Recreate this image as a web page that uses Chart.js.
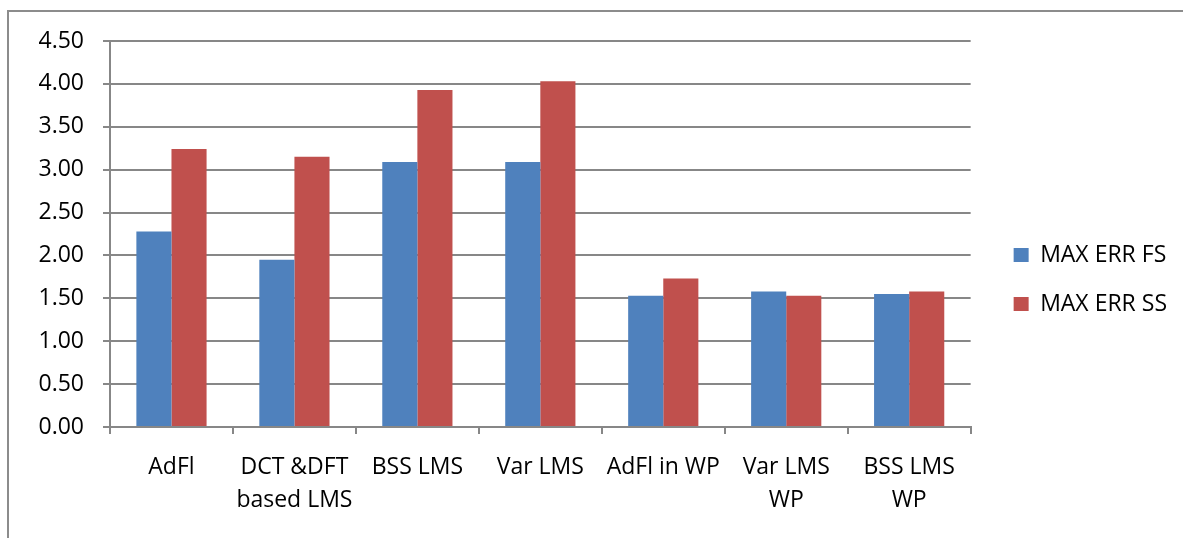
<!DOCTYPE html>
<html>
<head>
<meta charset="utf-8">
<script src="https://cdn.jsdelivr.net/npm/chart.js@4/dist/chart.umd.min.js"></script>
<style>
    html, body { margin: 0; padding: 0; background: #fff; }
    #wrap { position: relative; width: 1183px; height: 538px; overflow: hidden; }
    #frame {
        position: absolute; left: 7px; top: 10px; width: 1300px; height: 600px;
        border-left: 2px solid #8c8c8c; border-top: 2px solid #8c8c8c;
    }
    #chart { position: absolute; left: 0; top: 0; }
</style>
</head>
<body>
<div id="wrap">
    <div id="frame"></div>
    <canvas id="chart" width="1183" height="538"></canvas>
</div>
<script>
// categories and series
const categories = [
    'AdFl',
    ['DCT &DFT', 'based LMS'],
    'BSS LMS',
    'Var LMS',
    'AdFl in WP',
    ['Var LMS', 'WP'],
    ['BSS LMS', 'WP']
];
const maxErrFS = [2.28, 1.95, 3.09, 3.09, 1.53, 1.58, 1.55];
const maxErrSS = [3.24, 3.15, 3.93, 4.03, 1.73, 1.53, 1.58];

const yMin  = 0;
const yMax  = 4.5;
const yStep = 0.5;

const labelFont = { family: '"Open Sans", sans-serif', size: 23 };
const gridGray  = '#878787';

const ctx = document.getElementById('chart').getContext('2d');
new Chart(ctx, {
    type: 'bar',
    data: {
        labels: categories,
        datasets: [{
            label: 'MAX ERR FS',
            data: maxErrFS,
            backgroundColor: '#4F81BD',
            categoryPercentage: 0.571,
            barPercentage: 1.0
        }, {
            label: 'MAX ERR SS',
            data: maxErrSS,
            backgroundColor: '#C0504D',
            categoryPercentage: 0.571,
            barPercentage: 1.0
        }]
    },
    options: {
        responsive: false,
        animation: false,
        layout: { padding: { left: 0, top: 41, right: 6, bottom: 20 } },
        plugins: {
            tooltip: { enabled: false },
            legend: {
                position: 'right',
                labels: {
                    color: '#000',
                    font: labelFont,
                    boxWidth: 15,
                    boxHeight: 14,
                    padding: 26
                }
            }
        },
        scales: {
            x: {
                grid: {
                    display: true,
                    drawOnChartArea: false,
                    offset: true,
                    color: gridGray,
                    lineWidth: 2,
                    tickLength: 7
                },
                border: { display: true, color: gridGray, width: 2 },
                ticks: {
                    color: '#000',
                    font: Object.assign({ lineHeight: 1.43 }, labelFont),
                    padding: 17,
                    maxRotation: 0,
                    autoSkip: false
                },
                afterFit: function(scale) { scale.height = 91; }
            },
            y: {
                min: yMin,
                max: yMax,
                grid: { color: gridGray, lineWidth: 2, tickLength: 7 },
                border: { display: true, color: gridGray, width: 2 },
                ticks: {
                    stepSize: yStep,
                    color: '#000',
                    font: labelFont,
                    padding: 19,
                    callback: v => Number(v).toFixed(2)
                },
                afterFit: function(scale) { scale.width = 110; }
            },
            // empty spacer between plot and legend
            gap: {
                type: 'linear',
                position: 'right',
                display: true,
                grid: { display: false },
                border: { display: false },
                ticks: { display: false },
                afterFit: function(scale) { scale.width = 17; }
            }
        }
    }
});
</script>
</body>
</html>
